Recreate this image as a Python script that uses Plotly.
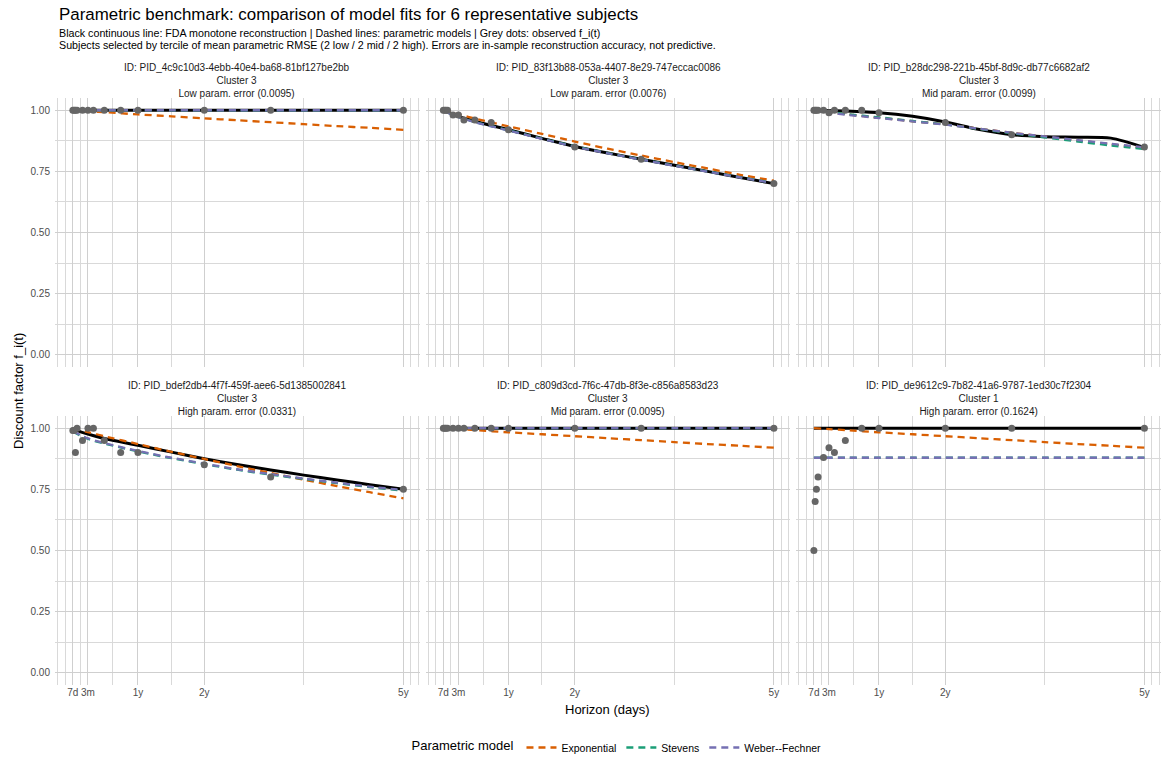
import plotly.graph_objects as go

# ---------------- data ----------------
HORIZONS = [7, 14, 21, 30, 60, 90, 120, 180, 270, 365, 730, 1095, 1825]
CURVE_T = [7, 90, 180, 365, 550, 730, 910, 1095, 1277, 1460, 1640, 1825]

TICK_VALS = [7, 90, 365, 730, 1825]
TICK_TEXT = ["7d", "3m", "1y", "2y", "5y"]
X_MINOR = [-76, -34.5, 7, 48.5, 90, 227.5, 365, 547.5, 730, 1277.5, 1825, 1866.5, 1908]
Y_TICKS = [0, 0.25, 0.5, 0.75, 1.0]
Y_TEXT = ["0.00", "0.25", "0.50", "0.75", "1.00"]
Y_MINOR = [0.125, 0.375, 0.625, 0.875]

STRIPS = [
    "ID: PID_4c9c10d3-4ebb-40e4-ba68-81bf127be2bb<br>Cluster 3<br>Low param. error (0.0095)",
    "ID: PID_83f13b88-053a-4407-8e29-747eccac0086<br>Cluster 3<br>Low param. error (0.0076)",
    "ID: PID_b28dc298-221b-45bf-8d9c-db77c6682af2<br>Cluster 3<br>Mid param. error (0.0099)",
    "ID: PID_bdef2db4-4f7f-459f-aee6-5d1385002841<br>Cluster 3<br>High param. error (0.0331)",
    "ID: PID_c809d3cd-7f6c-47db-8f3e-c856a8583d23<br>Cluster 3<br>Mid param. error (0.0095)",
    "ID: PID_de9612c9-7b82-41a6-9787-1ed30c7f2304<br>Cluster 1<br>High param. error (0.1624)",
]

OBS = [
    [1, 1, 1, 1, 1, 1, 1, 1, 1, 1, 1, 1, 1],
    [1.0, 1.0, 1.0, 1.0, 0.98, 0.98, 0.96, 0.96, 0.95, 0.92, 0.85, 0.80, 0.70],
    [1, 1, 1, 1, 1, 0.99, 1, 1, 1, 0.99, 0.95, 0.90, 0.85],
    [0.99, 0.99, 0.90, 1.0, 0.95, 1.0, 1.0, 0.95, 0.90, 0.90, 0.85, 0.80, 0.75],
    [1, 1, 1, 1, 1, 1, 1, 1, 1, 1, 1, 1, 1],
    [0.50, 0.70, 0.75, 0.80, 0.88, 0.92, 0.90, 0.95, 1.0, 1.0, 1.0, 1.0, 1.0],
]

FDA = [
    [1, 1, 1, 1, 1, 1, 1, 1, 1, 1, 1, 1],
    [1.0, 0.975, 0.955, 0.92, 0.885, 0.852, 0.825, 0.80, 0.775, 0.75, 0.725, 0.70],
    [1.0, 0.999, 0.997, 0.99, 0.975, 0.952, 0.922, 0.900, 0.892, 0.890, 0.886, 0.848],
    [0.995, 0.976, 0.958, 0.93, 0.902, 0.875, 0.851, 0.829, 0.808, 0.788, 0.769, 0.75],
    [1, 1, 1, 1, 1, 1, 1, 1, 1, 1, 1, 1],
    [1, 1, 1, 1, 1, 1, 1, 1, 1, 1, 1, 1],
]

EXPONENTIAL = [
    [1.0, 0.996, 0.992, 0.983, 0.975, 0.967, 0.959, 0.951, 0.943, 0.935, 0.928, 0.920],
    [1.0, 0.983, 0.966, 0.934, 0.903, 0.872, 0.843, 0.815, 0.788, 0.762, 0.736, 0.712],
    [1.0, 0.992, 0.984, 0.969, 0.955, 0.942, 0.925, 0.908, 0.892, 0.876, 0.861, 0.846],
    [1.0, 0.984, 0.967, 0.935, 0.903, 0.874, 0.845, 0.817, 0.789, 0.763, 0.738, 0.713],
    [1.0, 0.996, 0.992, 0.983, 0.975, 0.967, 0.959, 0.951, 0.943, 0.935, 0.928, 0.920],
    [1.0, 0.996, 0.992, 0.983, 0.975, 0.967, 0.959, 0.951, 0.943, 0.935, 0.928, 0.920],
]

STEVENS = [
    [1, 1, 1, 1, 1, 1, 1, 1, 1, 1, 1, 1],
    [0.998, 0.973, 0.952, 0.918, 0.884, 0.853, 0.825, 0.799, 0.774, 0.750, 0.726, 0.703],
    [1.0, 0.993, 0.985, 0.971, 0.956, 0.942, 0.924, 0.906, 0.889, 0.872, 0.856, 0.841],
    [0.985, 0.956, 0.937, 0.905, 0.877, 0.853, 0.830, 0.810, 0.792, 0.775, 0.759, 0.744],
    [1, 1, 1, 1, 1, 1, 1, 1, 1, 1, 1, 1],
    [0.879, 0.879, 0.879, 0.879, 0.879, 0.879, 0.879, 0.879, 0.879, 0.879, 0.879, 0.879],
]

WEBER = [
    [1, 1, 1, 1, 1, 1, 1, 1, 1, 1, 1, 1],
    [0.997, 0.972, 0.951, 0.917, 0.883, 0.851, 0.824, 0.798, 0.773, 0.749, 0.725, 0.702],
    [0.999, 0.990, 0.982, 0.968, 0.954, 0.941, 0.925, 0.908, 0.893, 0.878, 0.863, 0.848],
    [0.987, 0.958, 0.939, 0.907, 0.879, 0.855, 0.832, 0.812, 0.794, 0.777, 0.761, 0.747],
    [1, 1, 1, 1, 1, 1, 1, 1, 1, 1, 1, 1],
    [0.879, 0.879, 0.879, 0.879, 0.879, 0.879, 0.879, 0.879, 0.879, 0.879, 0.879, 0.879],
]

MODELS = [("Exponential", EXPONENTIAL, "#D95F02"),
          ("Stevens", STEVENS, "#1B9E77"),
          ("Weber--Fechner", WEBER, "#7570B3")]

# ---------------- layout geometry ----------------
W, H = 1161, 762
ML, MR, MT, MB = 55, 0, 98, 75
PW = W - ML - MR
PH = H - MT - MB
FONT = "Liberation Sans, Arial, Helvetica, sans-serif"

col_dom = [[0.0, 0.330], [0.335, 0.665], [0.670, 1.0]]
row_dom = [[(687 - 368) / PH, 1.0], [0.0, (687 - 417) / PH]]

fig = go.Figure()
layout = dict(
    width=W, height=H,
    margin=dict(l=ML, r=MR, t=MT, b=MB, pad=0),
    paper_bgcolor="white", plot_bgcolor="white",
    font=dict(family=FONT, color="#222222"),
    showlegend=True,
)
annotations = []

for i in range(6):
    r, c = divmod(i, 3)
    sfx = "" if i == 0 else str(i + 1)
    xa, ya = "x" + sfx, "y" + sfx
    layout["xaxis" + sfx] = dict(
        domain=col_dom[c], anchor=ya, range=[-91.25, 1916.25],
        tickmode="array", tickvals=TICK_VALS, ticktext=TICK_TEXT,
        showticklabels=(r == 1), ticks="", showline=False, zeroline=False,
        showgrid=True, gridcolor="#cfcfcf", gridwidth=1.2,
        minor=dict(tickmode="array", tickvals=X_MINOR, showgrid=True,
                   gridcolor="#d9d9d9", gridwidth=0.9, ticks=""),
        tickfont=dict(size=10, color="#4d4d4d", family=FONT),
        fixedrange=True,
    )
    layout["yaxis" + sfx] = dict(
        domain=row_dom[r], anchor=xa, range=[-0.05, 1.05],
        tickmode="array", tickvals=Y_TICKS, ticktext=Y_TEXT,
        showticklabels=(c == 0), ticks="", showline=False, zeroline=False,
        showgrid=True, gridcolor="#cfcfcf", gridwidth=1.2,
        minor=dict(tickmode="array", tickvals=Y_MINOR, showgrid=True,
                   gridcolor="#d9d9d9", gridwidth=0.9, ticks=""),
        tickfont=dict(size=10, color="#4d4d4d", family=FONT),
        ticklabelstandoff=4,
        fixedrange=True,
    )

    # FDA reconstruction
    fig.add_trace(go.Scatter(
        x=CURVE_T, y=FDA[i], mode="lines", xaxis=xa, yaxis=ya,
        line=dict(color="black", width=3, shape="spline", smoothing=0.8),
        showlegend=False, hoverinfo="skip"))
    # parametric models
    for name, vals, col in MODELS:
        fig.add_trace(go.Scatter(
            x=CURVE_T, y=vals[i], mode="lines", xaxis=xa, yaxis=ya,
            name=name, legendgroup=name, showlegend=(i == 0),
            line=dict(color=col, width=2.3, dash="7px,5px", shape="spline", smoothing=0.8)))
    # observed points
    fig.add_trace(go.Scatter(
        x=HORIZONS, y=OBS[i], mode="markers", xaxis=xa, yaxis=ya,
        marker=dict(color="#666666", size=7), showlegend=False))

    # strip label
    cx = (col_dom[c][0] + col_dom[c][1]) / 2
    top_px = 98 if r == 0 else 417
    annotations.append(dict(
        text=STRIPS[i], xref="paper", yref="paper", x=cx,
        y=(687 - top_px - 3) / PH, xanchor="center", yanchor="bottom",
        showarrow=False, font=dict(size=10, color="#1a1a1a", family=FONT),
        align="center"))

# titles
annotations += [
    dict(text="Parametric benchmark: comparison of model fits for 6 representative subjects",
         xref="paper", yref="paper", x=(57 - ML) / PW, y=(687 - 14) / PH,
         xanchor="left", yanchor="middle", showarrow=False,
         font=dict(size=16.9, color="#000000", family=FONT)),
    dict(text="Black continuous line: FDA monotone reconstruction | Dashed lines: parametric models | Grey dots: observed f_i(t)",
         xref="paper", yref="paper", x=(57 - ML) / PW, y=(687 - 33) / PH,
         xanchor="left", yanchor="middle", showarrow=False,
         font=dict(size=10.7, color="#000000", family=FONT)),
    dict(text="Subjects selected by tercile of mean parametric RMSE (2 low / 2 mid / 2 high). Errors are in-sample reconstruction accuracy, not predictive.",
         xref="paper", yref="paper", x=(57 - ML) / PW, y=(687 - 45) / PH,
         xanchor="left", yanchor="middle", showarrow=False,
         font=dict(size=10.7, color="#000000", family=FONT)),
    dict(text="Horizon (days)", xref="paper", yref="paper",
         x=(607 - ML) / PW, y=(687 - 712) / PH, xanchor="center", yanchor="middle",
         showarrow=False, font=dict(size=13, color="#000000", family=FONT)),
    dict(text="Discount factor f_i(t)", xref="paper", yref="paper",
         x=(18 - ML) / PW, y=(687 - 392) / PH, xanchor="center", yanchor="middle",
         textangle=-90, showarrow=False, font=dict(size=13, color="#000000", family=FONT)),
]
layout["annotations"] = annotations
layout["legend"] = dict(
    orientation="h", x=(618 - ML) / PW, xanchor="center",
    y=(687 - 750) / PH, yanchor="middle",
    title=dict(text="Parametric model", font=dict(size=13, color="#000000", family=FONT), side="left"),
    font=dict(size=10.5, color="#000000", family=FONT),
    bgcolor="rgba(0,0,0,0)", itemwidth=30, tracegroupgap=0,
)
fig.update_layout(**layout)
fig.write_html("out.html")
